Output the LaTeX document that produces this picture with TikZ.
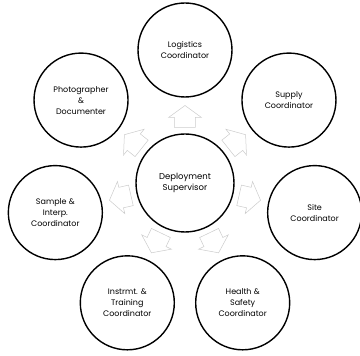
\documentclass[tikz,border=0pt]{standalone}
\usepackage{fontspec}
\setmainfont{Poppins}
\usetikzlibrary{calc}
\tikzset{>=latex}

\begin{document}
\begin{tikzpicture}[x=1pt, y=1pt,
    role/.style={circle, draw=black, line width=1.4pt, minimum size=94pt, inner sep=0pt,
        align=center, font=\fontsize{8}{11}\selectfont},
    blockarrow/.style={draw=gray!40, fill=white, line width=0.5pt, line join=miter}]

    \useasboundingbox (0,0) rectangle (360,356);

    \node[role, minimum size=98pt, font=\fontsize{8.5}{11}\selectfont] (sup) at (185,173) {Deployment\\Supervisor};

    
    \foreach \n/\a/\t in {log/90/{Logistics\\Coordinator},
                          sply/38.57/{Supply\\Coordinator},
                          site/-12.86/{Site\\Coordinator},
                          hlth/-64.29/{Health \&\\Safety\\Coordinator},
                          inst/-115.71/{Instrmt. \&\\Training\\Coordinator},
                          smpl/-167.14/{Sample \&\\Interp.\\Coordinator},
                          phot/141.43/{Photographer\\\&\\Documenter}}
    {
        \node[role] (\n) at ($(sup)+(\a:133)$) {\t};
        \draw[blockarrow, shift={($(sup)!0.5!(\n)$)}, rotate=\a]
            (-11,-10.5) -- (-1,-10.5) -- (-1,-16.5) -- (11,0) -- (-1,16.5) -- (-1,10.5) -- (-11,10.5) -- cycle;
    }

\end{tikzpicture}
\end{document}
